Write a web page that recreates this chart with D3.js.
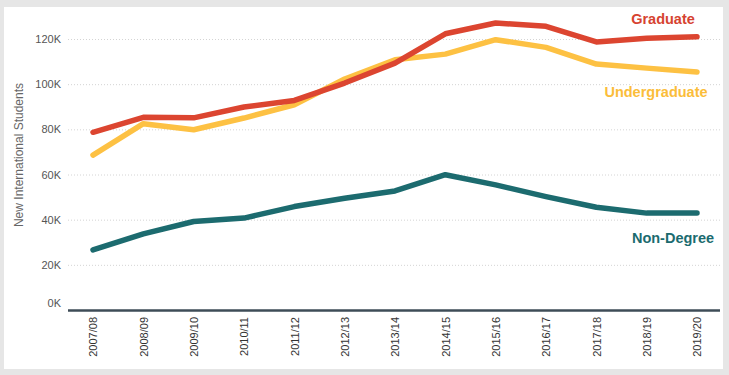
<!DOCTYPE html>
<html>
<head>
<meta charset="utf-8">
<script src="https://cdn.jsdelivr.net/npm/d3@7"></script>
<style>
  body { margin: 0; background: #e6e6e6; }
  #chart { position: absolute; left: 4px; top: 7px; width: 719px; height: 362px; background: #fff; }
  text { font-family: "Liberation Sans", Arial, sans-serif; }
</style>
</head>
<body>
<div id="chart"></div>
<script>
// data
var years = ["2007/08", "2008/09", "2009/10", "2010/11", "2011/12", "2012/13", "2013/14",
             "2014/15", "2015/16", "2016/17", "2017/18", "2018/19", "2019/20"]
var graduate = [78700, 85300, 85100, 89900, 92800, 100500, 109300, 122300, 127100, 125600, 118700, 120300, 121000]
var undergraduate = [68600, 82500, 79800, 85000, 90900, 102300, 110800, 113300, 119700, 116300, 108900, 107100, 105400]
var nonDegree = [26600, 33700, 39200, 40700, 45800, 49500, 52700, 59900, 55400, 50200, 45500, 42900, 42900]
var yTicks = [0, 20000, 40000, 60000, 80000, 100000, 120000]

var width = 719
    height = 362

var svg = d3.select("#chart")
  .append("svg")
    .attr("width", width)
    .attr("height", height)

// scales (coordinates relative to the white panel)
var x = d3.scalePoint()
  .domain(years)
  .range([89, 693])

var y = d3.scaleLinear()
  .domain([0, 120000])
  .range([303, 32])

// gridlines
svg.append("g")
  .selectAll("line")
  .data(yTicks.slice(1))
  .enter()
  .append("line")
    .attr("x1", 64)
    .attr("x2", 716)
    .attr("y1", function(d) { return y(d) + 0.5 })
    .attr("y2", function(d) { return y(d) + 0.5 })
    .attr("stroke", "#d4d4d4")
    .attr("stroke-dasharray", "1,2")

// y axis labels
var yAxis = svg.append("g")
  .attr("transform", "translate(57,0)")
  .call(d3.axisLeft(y).tickValues(yTicks).tickSize(0).tickPadding(0)
    .tickFormat(function(d) { return (d / 1000) + "K" }))
yAxis.select(".domain").remove()
yAxis.selectAll("text")
  .attr("font-size", "11px")
  .attr("fill", "#555")
  .attr("font-family", "Liberation Sans, Arial, sans-serif")
yAxis.selectAll(".tick")
  .filter(function(d) { return d === 0 })
  .select("text")
  .attr("dy", "-0.35em")

// y axis title
svg.append("text")
  .attr("transform", "translate(19," + 148 + ") rotate(-90)")
  .attr("text-anchor", "middle")
  .attr("font-size", "12px")
  .attr("fill", "#666")
  .text("New International Students")

// x axis
var xAxis = svg.append("g")
  .attr("transform", "translate(0," + y(0) + ")")
  .call(d3.axisBottom(x).tickSize(0).tickPadding(0))
xAxis.select(".domain")
  .attr("d", "M64,0.5H716")
  .attr("stroke", "#3e4c57")
  .attr("stroke-width", 2.5)
xAxis.selectAll("text")
  .attr("font-size", "11px")
  .attr("fill", "#333")
  .attr("font-family", "Liberation Sans, Arial, sans-serif")
  .attr("text-anchor", "end")
  .attr("transform", "rotate(-90)")
  .attr("x", -7)
  .attr("y", 0)
  .attr("dy", "0.35em")

// lines
var series = [
  {name: "Graduate", values: graduate, color: "#dc4530"},
  {name: "Undergraduate", values: undergraduate, color: "#fdc143"},
  {name: "Non-Degree", values: nonDegree, color: "#1c6b6f"}
]

var line = d3.line()
  .x(function(d, i) { return x(years[i]) })
  .y(function(d) { return y(d) })

svg.selectAll("allLines")
  .data([series[1], series[0], series[2]])
  .enter()
  .append("path")
    .attr("d", function(d) { return line(d.values) })
    .attr("fill", "none")
    .attr("stroke", function(d) { return d.color })
    .attr("stroke-width", 5.5)
    .attr("stroke-linecap", "round")
    .attr("stroke-linejoin", "round")

// series labels
var labels = [
  {text: "Graduate", x: 659, y: 17, color: "#d64330"},
  {text: "Undergraduate", x: 652, y: 90, color: "#fbbd3a"},
  {text: "Non-Degree", x: 669, y: 236, color: "#1b6b6f"}
]

svg.selectAll("allLabels")
  .data(labels)
  .enter()
  .append("text")
    .attr("x", function(d) { return d.x })
    .attr("y", function(d) { return d.y })
    .attr("text-anchor", "middle")
    .attr("font-size", "14.5px")
    .attr("font-weight", "bold")
    .attr("fill", function(d) { return d.color })
    .text(function(d) { return d.text })
</script>
</body>
</html>
